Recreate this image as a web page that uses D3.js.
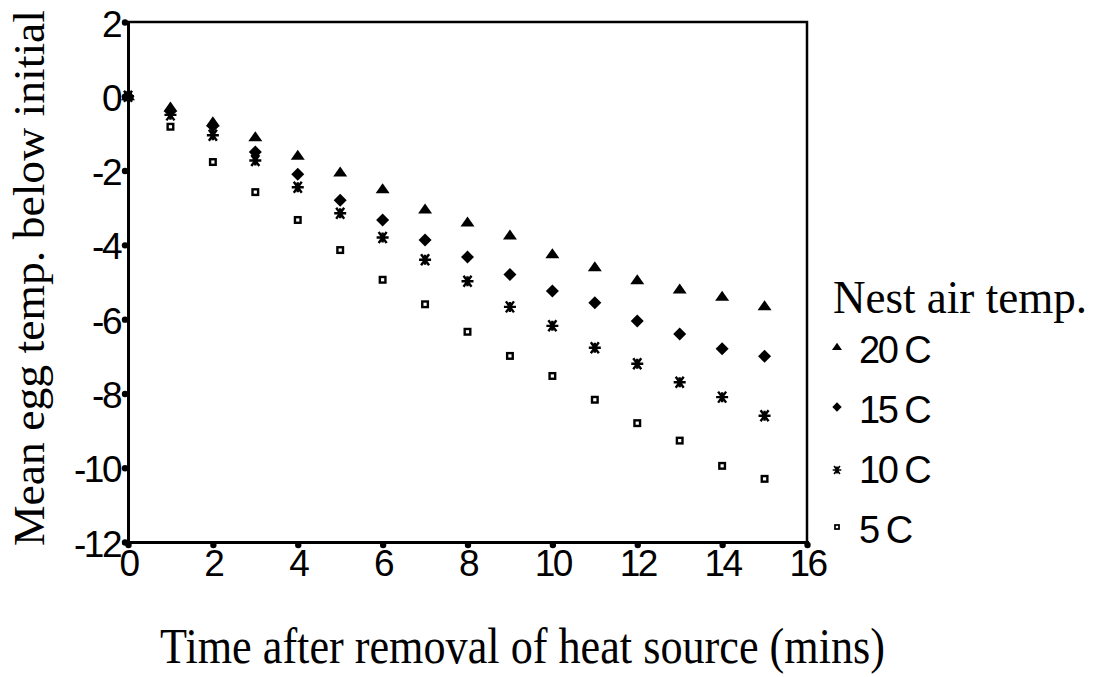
<!DOCTYPE html>
<html>
<head>
<meta charset="utf-8">
<script src="https://cdn.jsdelivr.net/npm/d3@7"></script>
<style>
  body { margin: 0; background: #fff; }
  svg { display: block; }
</style>
</head>
<body>
<svg></svg>
<script>
// minutes after the heat source was removed
const minutes = d3.range(0, 16)

// mean egg temp. below initial, one list per nest air temp.
const t20 = [0, -0.3, -0.7, -1.1, -1.6, -2.05, -2.5, -3.05, -3.4, -3.75, -4.25, -4.6, -4.95, -5.2, -5.4, -5.65]
const t15 = [0, -0.4, -0.8, -1.5, -2.1, -2.8, -3.33, -3.87, -4.33, -4.8, -5.24, -5.56, -6.05, -6.4, -6.8, -7.0]
const t10 = [0, -0.5, -1.05, -1.73, -2.45, -3.15, -3.8, -4.4, -4.98, -5.67, -6.18, -6.77, -7.2, -7.7, -8.1, -8.6]
const t5  = [0, -0.82, -1.77, -2.58, -3.33, -4.14, -4.94, -5.6, -6.34, -6.99, -7.53, -8.17, -8.8, -9.27, -9.95, -10.3]

const seriesNames = ["20 C", "15 C", "10 C", "5 C"]
const seriesVals = [t20, t15, t10, t5]
const xTicks = [0, 2, 4, 6, 8, 10, 12, 14, 16]
const yTicks = [2, 0, -2, -4, -6, -8, -10, -12]

const width = 1105, height = 677

const svg = d3.select("svg")
  .attr("width", width)
  .attr("height", height)

svg.append("rect").attr("width", width).attr("height", height).attr("fill", "#fff")

const x = d3.scaleLinear().domain([0, 16]).range([128, 807])
const y = d3.scaleLinear().domain([-12, 2]).range([542, 22])

// frame (top + right)
svg.append("path")
  .attr("d", `M${x(0)},${y(2)}H${x(16)}V${y(-12)}`)
  .attr("fill", "none")
  .attr("stroke", "#000")
  .attr("stroke-width", 2.5)

const sans = "'Liberation Sans', Arial, sans-serif"
const serif = "'Liberation Serif', 'Times New Roman', serif"

const fmt = d => String(d)   // plain hyphen minus like the original
const xAxis = d3.axisBottom(x).tickValues(xTicks).tickFormat(fmt).tickSize(3).tickPadding(6)
const yAxis = d3.axisLeft(y).tickValues(yTicks).tickFormat(fmt).tickSize(3).tickPadding(5)

const gx = svg.append("g")
  .attr("transform", `translate(0,${y(-12)})`)
  .call(xAxis)
const gy = svg.append("g")
  .attr("transform", `translate(${x(0)},0)`)
  .call(yAxis)

for (const g of [gx, gy]) {
  g.select(".domain").attr("stroke", "#000").attr("stroke-width", 3)
  g.selectAll(".tick line").attr("stroke", "#000").attr("stroke-width", 2)
  g.selectAll(".tick text")
    .attr("fill", "#000")
    .style("font-family", sans)
    .style("font-size", "37px")
    .style("letter-spacing", "-2.5px")
}
gx.selectAll(".tick").append("circle").attr("cy", 3).attr("r", 3.2).attr("fill", "#000")
gy.selectAll(".tick").append("circle").attr("cx", -3).attr("r", 3.2).attr("fill", "#000")
gx.selectAll(".tick text").attr("dy", "0.68em")
gy.selectAll(".tick text").attr("dy", "0.38em")

// marker shapes
const shapes = [
  (g, s) => g.append("path").attr("d", `M${-7*s},${4*s}L${7*s},${4*s}L0,${-6*s}Z`).attr("fill", "#000"),
  (g, s) => g.append("path").attr("d", `M0,${-6.5*s}L${6.5*s},0L0,${6.5*s}L${-6.5*s},0Z`).attr("fill", "#000"),
  (g, s) => g.append("path")
      .attr("d", `M${-6*s},0H${6*s}M${-4*s},${-5.5*s}L${4*s},${5.5*s}M${-4*s},${5.5*s}L${4*s},${-5.5*s}M0,${-5*s}V${5*s}`)
      .attr("fill", "none").attr("stroke", "#000").attr("stroke-width", 2.4 * s),
  (g, s) => g.append("rect").attr("x", -2.8*s).attr("y", -2.8*s).attr("width", 5.6*s).attr("height", 5.6*s)
      .attr("fill", "#fff").attr("stroke", "#000").attr("stroke-width", 2.4 * s)
]

// draw lowest series first so upper markers sit on top
seriesVals.slice().reverse().forEach((vals, ri) => {
  const i = seriesVals.length - 1 - ri
  const g = svg.append("g")
  g.selectAll("g")
    .data(minutes.map((m, j) => ({ m, v: vals[j] })))
    .join("g")
    .attr("transform", d => `translate(${x(d.m)},${y(d.v)})`)
    .each(function () { shapes[i](d3.select(this), 1) })
})

// axis titles
svg.append("text")
  .attr("x", 160).attr("y", 663)
  .attr("textLength", 725).attr("lengthAdjust", "spacingAndGlyphs")
  .style("font-family", serif).style("font-size", "50px")
  .text("Time after removal of heat source (mins)")

svg.append("text")
  .attr("transform", "translate(44,546) rotate(-90)")
  .attr("textLength", 536).attr("lengthAdjust", "spacingAndGlyphs")
  .style("font-family", serif).style("font-size", "44px")
  .text("Mean egg temp. below initial")

// legend
svg.append("text")
  .attr("x", 833).attr("y", 313)
  .attr("textLength", 254).attr("lengthAdjust", "spacingAndGlyphs")
  .style("font-family", serif).style("font-size", "46px")
  .text("Nest air temp.")

const legY = [363, 423, 483, 543]
const legOff = [-16, -16, -13, -16]
seriesNames.forEach((name, i) => {
  const g = svg.append("g").attr("transform", `translate(837,${legY[i] + legOff[i]})`)
  shapes[i](g, 0.72)
  svg.append("text")
    .attr("x", 859).attr("y", legY[i])
    .style("font-family", sans).style("font-size", "38px")
    .style("letter-spacing", "-2.5px")
    .text(name)
})
</script>
</body>
</html>
